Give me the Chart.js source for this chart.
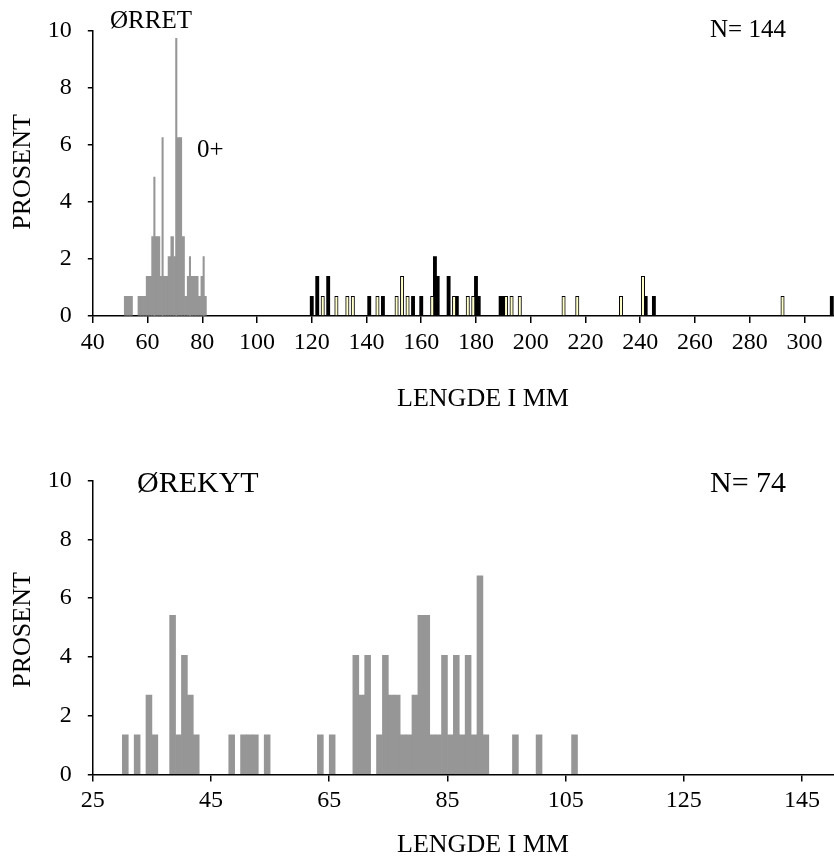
<!DOCTYPE html>
<html><head><meta charset="utf-8">
<script src="https://cdn.jsdelivr.net/npm/chart.js@4.4.1/dist/chart.umd.min.js"></script>
<style>
html,body{margin:0;padding:0;background:#fff;overflow:hidden;width:834px;height:859px}
canvas{position:absolute;left:0;display:block}
#c1{top:0}
#c2{top:430px}
</style></head>
<body>
<canvas id="c1" width="834" height="430"></canvas>
<canvas id="c2" width="834" height="429"></canvas>
<script>
// ---------- ØRRET (N = 144), percent per 1-mm length class ----------
const orretGrayLen = [52,53,54,57,58,59,60,61,62,63,64,65,66,67,68,69,70,71,72,73,74,75,76,77,78,79,80,81];
const orretGrayPct = [0.69,0.69,0.69,0.69,0.69,0.69,1.39,1.39,2.78,2.78,2.78,1.39,1.39,1.39,2.08,2.78,2.08,6.25,6.25,2.78,0.69,1.39,1.39,1.39,1.39,0.69,1.39,0.69];
const orretPeakLen = [62.5,65.5,70.5,75.5,80.5];
const orretPeakPct = [4.86,6.25,9.72,2.08,2.08];
const orretBlackLen = [120,122,126,141,146,157,160,165,166,170,173,180,181,189,190,242,245,310];
const orretBlackPct = [0.69,1.39,1.39,0.69,0.69,0.69,0.69,2.08,1.39,1.39,0.69,1.39,0.69,0.69,0.69,0.69,0.69,0.69];
const orretLightLen = [124,129,133,135,144,151,153,155,164,172,177,179,191,193,196,212,217,233,241,292];
const orretLightPct = [0.69,0.69,0.69,0.69,0.69,0.69,1.39,0.69,0.69,0.69,0.69,0.69,0.69,0.69,0.69,0.69,0.69,0.69,1.39,0.69];
const orretTicks = [40,60,80,100,120,140,160,180,200,220,240,260,280,300];

// ---------- ØREKYT (N = 74) ----------
const orekytLen = [30,32,34,35,38,39,40,41,42,48,50,51,52,54,63,65,69,70,71,73,74,75,76,77,78,79,80,81,82,83,84,85,86,87,88,89,90,91,96,100,106];
const orekytPct = [1.35,1.35,2.70,1.35,5.41,1.35,4.05,2.70,1.35,1.35,1.35,1.35,1.35,1.35,1.35,1.35,4.05,2.70,4.05,1.35,4.05,2.70,2.70,1.35,1.35,2.70,5.41,5.41,1.35,1.35,4.05,1.35,4.05,1.35,4.05,1.35,6.76,1.35,1.35,1.35,1.35];
const orekytTicks = [25,45,65,85,105,125,145];

const yTicks = [0,2,4,6,8,10];

const pts = (xs, ys) => xs.map((x, i) => ({x: x, y: ys[i]}));
const FONT = '"Liberation Serif", "Times New Roman", serif';
const GRAY = '#969696';

const textPlugin = {
  id: 'texts',
  afterDraw(chart, args, opts) {
    const ctx = chart.ctx;
    for (const t of opts.items || []) {
      ctx.save();
      ctx.fillStyle = '#000';
      ctx.font = t.size + 'px ' + FONT;
      ctx.textAlign = t.align || 'left';
      ctx.textBaseline = 'alphabetic';
      ctx.translate(t.x, t.y);
      if (t.rot) ctx.rotate(t.rot);
      ctx.fillText(t.text, 0, 0);
      ctx.restore();
    }
  }
};

function makeChart(id, cfg) {
  const canvas = document.getElementById(id);
  const H = canvas.height;
  return new Chart(canvas, {
    type: 'bar',
    data: { datasets: cfg.datasets },
    plugins: [textPlugin],
    options: {
      responsive: false,
      animation: false,
      devicePixelRatio: 1,
      layout: { padding: { top: cfg.top, left: 0, right: 0, bottom: 0 } },
      plugins: { legend: { display: false }, tooltip: { enabled: false }, texts: { items: cfg.texts } },
      scales: {
        x: {
          type: 'linear', offset: false,
          min: cfg.xMin, max: cfg.xMax,
          afterBuildTicks: s => { s.ticks = cfg.xTickValues.map(v => ({ value: v })); },
          afterFit: s => { s.height = H - cfg.bottom; },
          grid: { offset: false, drawOnChartArea: false, drawTicks: true, tickLength: 7, color: '#000', lineWidth: 1.5 },
          border: { display: true, color: '#000', width: 1.5 },
          ticks: { font: { family: FONT, size: 24 }, color: '#000', padding: 5, maxRotation: 0, autoSkip: false,
                   callback: cfg.xLabel }
        },
        y: {
          min: 0, max: 10,
          afterBuildTicks: s => { s.ticks = yTicks.map(v => ({ value: v })); },
          afterFit: s => { s.width = 92.8; },
          grid: { drawOnChartArea: false, drawTicks: true, tickLength: 5, color: '#000', lineWidth: 1.5 },
          border: { display: true, color: '#000', width: 1.5 },
          ticks: { font: { family: FONT, size: 24 }, color: '#000', padding: 16 }
        }
      }
    }
  });
}

makeChart('c1', {
  top: 28.5, bottom: 316,
  xMin: 40, xMax: 310.8,
  xTickValues: orretTicks,
  xLabel: v => String(v),
  datasets: [
    { data: pts(orretPeakLen, orretPeakPct), backgroundColor: GRAY, barThickness: 1.4, grouped: false, borderWidth: 0 },
    { data: pts(orretLightLen, orretLightPct), backgroundColor: '#FFFFCC', borderColor: '#000', borderWidth: 1, barThickness: 3.4, grouped: false },
    { data: pts(orretBlackLen, orretBlackPct), backgroundColor: '#000', barThickness: 3.2, grouped: false, borderWidth: 0 },
    { data: pts(orretGrayLen, orretGrayPct), backgroundColor: GRAY, barThickness: 2.76, grouped: false, borderWidth: 0 }
  ],
  texts: [
    { text: 'ØRRET', x: 110, y: 28, size: 25 },
    { text: '0+', x: 197, y: 157, size: 25 },
    { text: 'N= 144', x: 710, y: 37, size: 25 },
    { text: 'PROSENT', x: 30, y: 172, size: 26, rot: -Math.PI / 2, align: 'center' },
    { text: 'LENGDE I MM', x: 483, y: 406, size: 26, align: 'center' }
  ]
});

makeChart('c2', {
  top: 50.5, bottom: 344.5,
  xMin: orekytTicks[0] - 0.5, xMax: 149.9,
  xTickValues: orekytTicks.map(v => v - 0.5),
  xLabel: v => String(Math.round(v + 0.5)),
  datasets: [
    { data: pts(orekytLen, orekytPct), backgroundColor: GRAY, barPercentage: 1, categoryPercentage: 1, borderWidth: 0 }
  ],
  texts: [
    { text: 'ØREKYT', x: 137, y: 62, size: 30 },
    { text: 'N= 74', x: 710, y: 62, size: 30 },
    { text: 'PROSENT', x: 30, y: 200, size: 26, rot: -Math.PI / 2, align: 'center' },
    { text: 'LENGDE I MM', x: 483, y: 422, size: 26, align: 'center' }
  ]
});
</script>
</body></html>
